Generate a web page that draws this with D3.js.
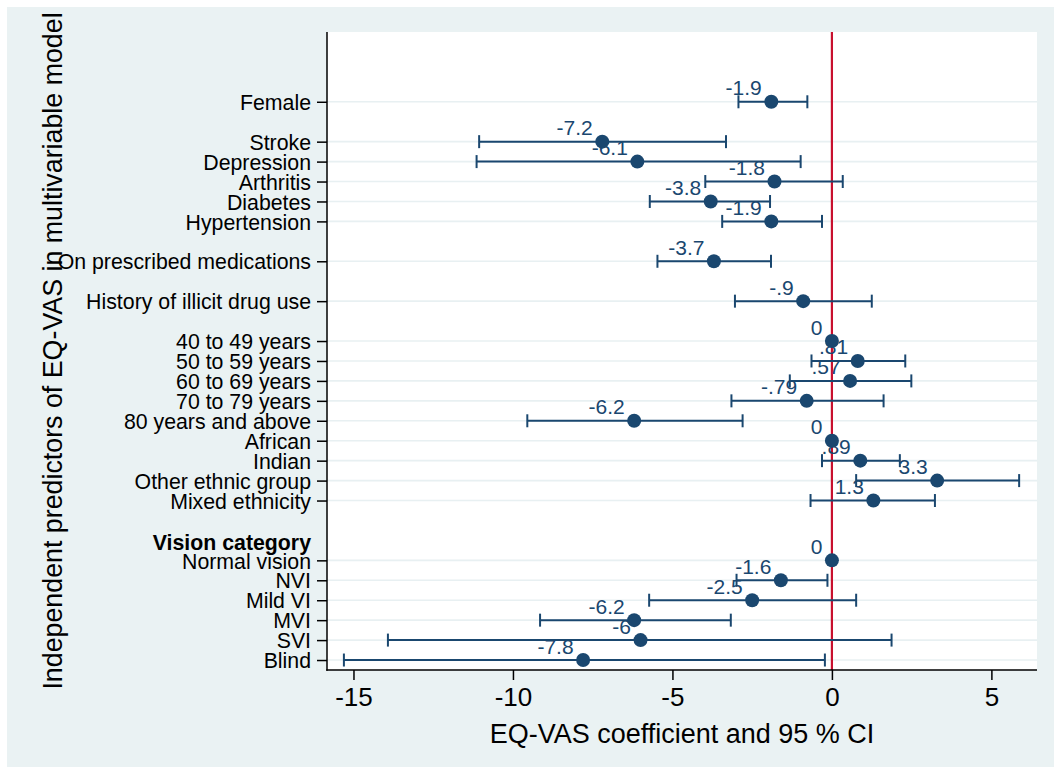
<!DOCTYPE html>
<html>
<head>
<meta charset="utf-8">
<script src="https://cdn.jsdelivr.net/npm/d3@7"></script>
<style>
  html, body { margin: 0; padding: 0; background: #ffffff; }
  svg { display: block; }
  text { font-family: "Liberation Sans", Arial, Helvetica, sans-serif; }
</style>
</head>
<body>
<svg id="chart" width="1054" height="767"></svg>
<script>
// Predictor labels, top to bottom
const categories = [
  "Female", "Stroke", "Depression", "Arthritis", "Diabetes", "Hypertension",
  "On prescribed medications", "History of illicit drug use",
  "40 to 49 years", "50 to 59 years", "60 to 69 years", "70 to 79 years", "80 years and above",
  "African", "Indian", "Other ethnic group", "Mixed ethnicity",
  "Normal vision", "NVI", "Mild VI", "MVI", "SVI", "Blind"
];
// Vertical slot of each predictor on the y axis (1 = bottom)
const slots = [29, 27, 26, 25, 24, 23, 21, 19, 17, 16, 15, 14, 13, 12, 11, 10, 9, 6, 5, 4, 3, 2, 1];
// Coefficients and 95% confidence limits (null = reference category)
const estimates = [-1.9, -7.2, -6.1, -1.8, -3.8, -1.9, -3.7, -0.9, 0, 0.81, 0.57, -0.79, -6.2, 0, 0.89, 3.3, 1.3, 0, -1.6, -2.5, -6.2, -6, -7.8];
const lower = [-2.93, -11.06, -11.14, -3.97, -5.71, -3.44, -5.47, -3.04, null, -0.64, -1.32, -3.15, -9.55, null, -0.31, 0.76, -0.67, null, -2.99, -5.73, -9.15, -13.92, -15.30];
const upper = [-0.77, -3.32, -0.98, 0.34, -1.94, -0.31, -1.91, 1.25, null, 2.30, 2.49, 1.62, -2.80, null, 2.13, 5.87, 3.23, null, -0.14, 0.76, -3.17, 1.87, -0.22];
// Group heading placed between ethnicity and vision rows
const headings = ["Vision category"];
const headingSlots = [7];
const xTicks = [-15, -10, -5, 0, 5];
const xTitle = "EQ-VAS coefficient and 95 % CI";
const yTitle = "Independent predictors of EQ-VAS in multivariable model";

const rows = categories.map((c, i) => ({
  name: c, slot: slots[i], est: estimates[i], lo: lower[i], hi: upper[i]
}));

const W = 1054, H = 767;
const plot = { left: 327, right: 1037, top: 32, bottom: 670 };
const navy = "#1a476f", red = "#c8102e", bg = "#eaf2f3", grid = "#e8f0f2";
const font = "'Liberation Sans', Arial, Helvetica, sans-serif";

// plain hyphen for negative numbers
const locale = d3.formatLocale({ decimal: ".", thousands: ",", grouping: [3], currency: ["", ""], minus: "-" });

const svg = d3.select("#chart");

// outer graph region
svg.append("rect").attr("x", 7).attr("y", 7).attr("width", W - 7).attr("height", H - 7).attr("fill", bg);
// plot region
svg.append("rect").attr("x", plot.left).attr("y", plot.top)
  .attr("width", plot.right - plot.left).attr("height", plot.bottom - plot.top).attr("fill", "#ffffff");

const x = d3.scaleLinear().domain([-15.83, 6.43]).range([plot.left, plot.right]);
const y = d3.scaleLinear().domain([0.5, 32.5]).range([plot.bottom, plot.top]);

// horizontal gridlines at each predictor
svg.append("g").selectAll("line").data(rows).join("line")
  .attr("x1", plot.left).attr("x2", plot.right)
  .attr("y1", d => y(d.slot)).attr("y2", d => y(d.slot))
  .attr("stroke", grid).attr("stroke-width", 1.6);

// reference line at zero
svg.append("line")
  .attr("x1", x(0)).attr("x2", x(0)).attr("y1", plot.top).attr("y2", plot.bottom)
  .attr("stroke", red).attr("stroke-width", 2.2);

// confidence intervals with caps
const ci = svg.append("g").attr("stroke", navy).attr("stroke-width", 2).attr("fill", "none");
const withCI = rows.filter(d => d.lo !== null);
ci.selectAll("line.span").data(withCI).join("line").attr("class", "span")
  .attr("x1", d => x(d.lo)).attr("x2", d => x(d.hi))
  .attr("y1", d => y(d.slot)).attr("y2", d => y(d.slot));
ci.selectAll("line.capl").data(withCI).join("line").attr("class", "capl")
  .attr("x1", d => x(d.lo)).attr("x2", d => x(d.lo))
  .attr("y1", d => y(d.slot) - 6.5).attr("y2", d => y(d.slot) + 6.5);
ci.selectAll("line.caph").data(withCI).join("line").attr("class", "caph")
  .attr("x1", d => x(d.hi)).attr("x2", d => x(d.hi))
  .attr("y1", d => y(d.slot) - 6.5).attr("y2", d => y(d.slot) + 6.5);

// point estimates
svg.append("g").selectAll("circle").data(rows).join("circle")
  .attr("cx", d => x(d.est)).attr("cy", d => y(d.slot)).attr("r", 7)
  .attr("fill", navy);

// value labels, written without a leading zero
const fmt = v => locale.format(".2~g")(v).replace(/^(-?)0\./, "$1.");
svg.append("g").selectAll("text").data(rows).join("text")
  .attr("x", d => x(d.est) - 9.5).attr("y", d => y(d.slot) - 6.5)
  .attr("text-anchor", "end").attr("font-size", 21).attr("fill", navy)
  .text(d => fmt(d.est));

// y axis
const yAxis = d3.axisLeft(y).tickValues(slots).tickSize(10).tickPadding(6)
  .tickFormat(s => categories[slots.indexOf(s)]);
const gy = svg.append("g").attr("transform", `translate(${plot.left},0)`).call(yAxis);
gy.select(".domain").remove();
gy.selectAll(".tick line").attr("stroke", "#000").attr("stroke-width", 1.5);
gy.selectAll(".tick text").attr("font-size", 21.3).attr("fill", "#000").attr("font-family", font)
  .attr("dy", "0.36em");
svg.append("line").attr("x1", plot.left).attr("x2", plot.left)
  .attr("y1", plot.top).attr("y2", plot.bottom + 0.75)
  .attr("stroke", "#000").attr("stroke-width", 1.5);

// group heading
svg.append("g").selectAll("text").data(headings).join("text")
  .attr("x", plot.left - 16).attr("y", (d, i) => y(headingSlots[i]) + 2)
  .attr("dy", "0.36em").attr("text-anchor", "end")
  .attr("font-size", 21.3).attr("font-weight", "bold").attr("fill", "#000")
  .text(d => d);

// x axis
const xAxis = d3.axisBottom(x).tickValues(xTicks).tickSize(10).tickPadding(8)
  .tickFormat(locale.format("d"));
const gx = svg.append("g").attr("transform", `translate(0,${plot.bottom})`).call(xAxis);
gx.select(".domain").remove();
gx.selectAll(".tick line").attr("stroke", "#000").attr("stroke-width", 1.5);
gx.selectAll(".tick text").attr("font-size", 26).attr("fill", "#000").attr("font-family", font);
svg.append("line").attr("x1", plot.left - 0.75).attr("x2", plot.right)
  .attr("y1", plot.bottom).attr("y2", plot.bottom)
  .attr("stroke", "#000").attr("stroke-width", 1.5);

// axis titles
svg.append("text")
  .attr("x", (plot.left + plot.right) / 2).attr("y", 743)
  .attr("text-anchor", "middle").attr("font-size", 27).attr("fill", "#000")
  .text(xTitle);
svg.append("text")
  .attr("transform", `translate(62,${(plot.top + plot.bottom) / 2}) rotate(-90)`)
  .attr("text-anchor", "middle").attr("font-size", 26.8).attr("fill", "#000")
  .text(yTitle);
</script>
</body>
</html>
